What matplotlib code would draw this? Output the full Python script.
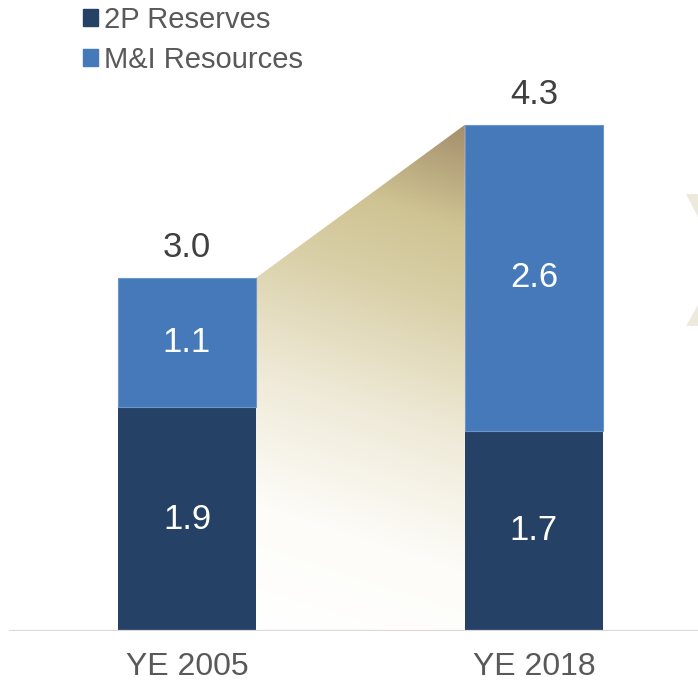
import numpy as np
import matplotlib
matplotlib.use("Agg")
import matplotlib.pyplot as plt
from matplotlib.colors import LinearSegmentedColormap
from matplotlib.patches import Polygon, Patch

plt.rcParams["font.family"] = ["Liberation Sans", "DejaVu Sans"]

years = ["YE 2005", "YE 2018"]
reserves_2p = [1.9, 1.7]
mi_resources = [1.1, 2.6]
totals = [3.0, 4.3]

NAVY = "#264166"
BLUE = "#4579b9"
TEXT = "#404040"
GREY = "#595959"
MARK = "#ede9dc"

fig = plt.figure(figsize=(6.98, 6.83), dpi=100)
ax = fig.add_axes([0, 52 / 683, 1, 631 / 683])
x = np.arange(len(years))
width = 0.398
ax.set_xlim(-0.539, 1.473)
ax.set_ylim(0, 5.36)

# shaded growth wedge between the two bar tops
x0 = x[0] + width / 2
x1 = x[1] - width / 2
wedge = Polygon([(x0, 0), (x0, totals[0]), (x1, totals[1]), (x1, 0)],
                closed=True, facecolor="none", edgecolor="none")
ax.add_patch(wedge)
gx = np.linspace(x0, x1, 300)
gy = np.linspace(0, totals[1], 400)
GX, GY = np.meshgrid(gx, gy)
# work in pixel-like units so the tilt of the gradient looks right
px, py = GX * 347.0, GY * 117.7
ang = np.deg2rad(18)
proj = px * np.sin(ang) + py * np.cos(ang)
t = (proj - proj.min()) / (proj.max() - proj.min())
cmap = LinearSegmentedColormap.from_list(
    "tan", [(0.0, "#ffffff"), (0.22, "#fdfcf8"), (0.45, "#efead8"),
            (0.68, "#d9d0a8"), (0.82, "#cfc393"), (1.0, "#a48f6c")])
img = ax.imshow(t, extent=(x0, x1, 0, totals[1]), origin="lower",
                cmap=cmap, aspect="auto", interpolation="bilinear", zorder=1)
img.set_clip_path(wedge)

b1 = ax.bar(x, reserves_2p, width, color=NAVY, label="2P Reserves", zorder=2)
b2 = ax.bar(x, mi_resources, width, bottom=reserves_2p, color=BLUE,
            edgecolor="#6d95c9", linewidth=0.8, label="M&I Resources", zorder=2)

for i in range(len(years)):
    ax.text(x[i], reserves_2p[i] / 2, f"{reserves_2p[i]:.1f}", color="white",
            fontsize=25, ha="center", va="center", zorder=3)
    ax.text(x[i], reserves_2p[i] + mi_resources[i] / 2, f"{mi_resources[i]:.1f}",
            color="white", fontsize=25, ha="center", va="center", zorder=3)
    ax.annotate(f"{totals[i]:.1f}", (x[i], totals[i]), xytext=(0, 15),
                textcoords="offset points", ha="center", va="baseline",
                fontsize=25, color=TEXT)

# partial watermark glyph at the right margin
ax.add_patch(Polygon([(1.438, 3.713), (1.473, 3.713), (1.473, 3.517)],
                     closed=True, color=MARK, zorder=0, linewidth=0))
ax.add_patch(Polygon([(1.438, 2.591), (1.473, 2.591), (1.473, 2.770)],
                     closed=True, color=MARK, zorder=0, linewidth=0))

ax.axhline(0, xmin=10 / 698, xmax=1, color="#d9d9d9", linewidth=1.6, zorder=4)

for s in ax.spines.values():
    s.set_visible(False)
ax.set_yticks([])
ax.set_xticks(x)
ax.set_xticklabels(years, fontsize=23, color=GREY)
ax.tick_params(axis="x", length=0, pad=15)

handles = [Patch(color=NAVY), Patch(color=BLUE)]
fig.legend(handles, ["2P Reserves", "M&I Resources"], loc="upper left",
           bbox_to_anchor=(71 / 698, 1 + 6 / 683), frameon=False, fontsize=21,
           labelcolor=GREY, handlelength=0.52, handleheight=0.52,
           handletextpad=0.2, labelspacing=0.42, borderaxespad=0)

fig.savefig("out.png", dpi=100)
